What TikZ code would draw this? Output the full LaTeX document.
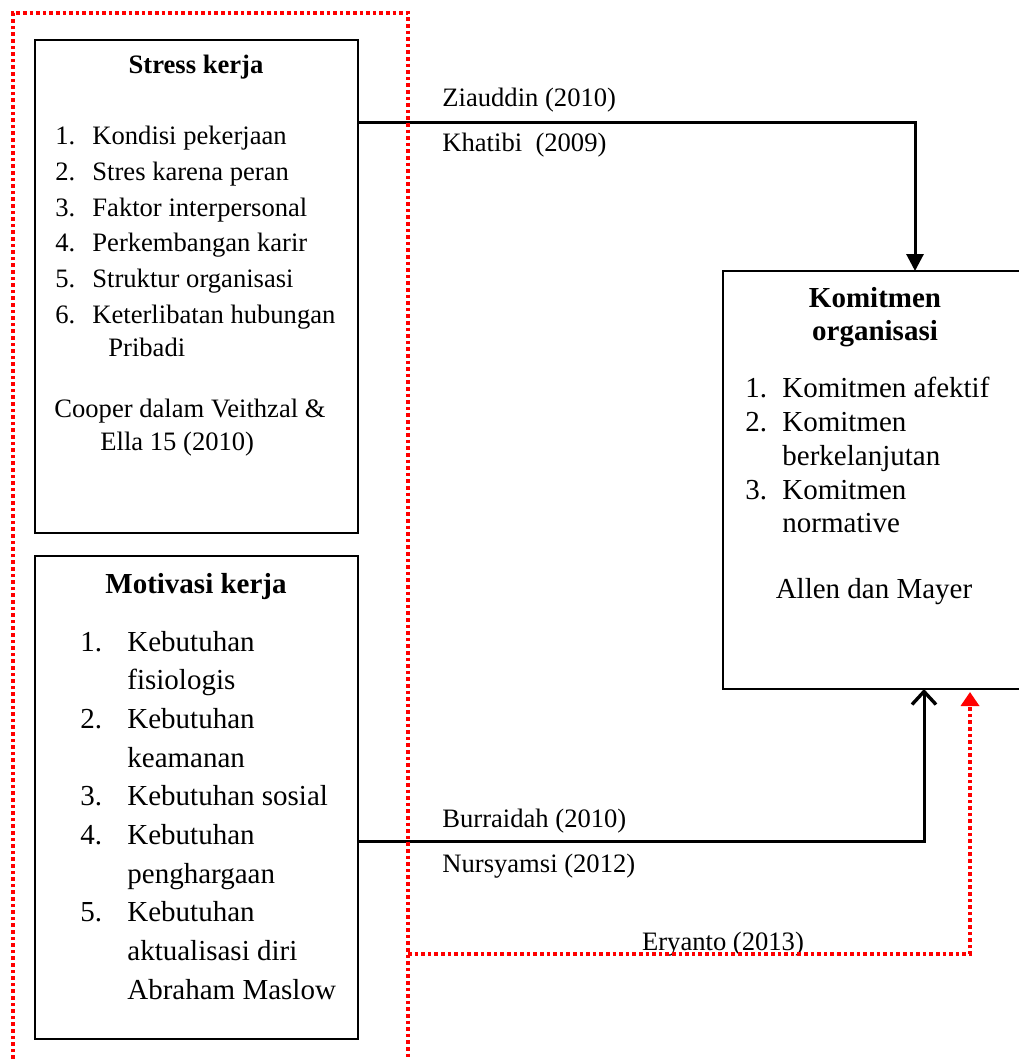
\documentclass[tikz,border=0pt]{standalone}
\usepackage{fontspec}
\setmainfont{Liberation Serif}
\usetikzlibrary{arrows.meta,positioning}
\newcommand{\ftsmall}{\fontsize{13.3}{16}\selectfont}
\newcommand{\ftlarge}{\fontsize{14.5}{17}\selectfont}
\tikzset{
  box/.style={ % one of the three concept boxes
    draw, rectangle, line width=0.75pt, inner sep=0pt, outer sep=0pt
  },
  txt/.style={ % one line of text, set from its baseline
    anchor=base west, inner sep=0pt, text=black
  },
  title/.style={ % bold heading of a box
    anchor=base, inner sep=0pt, text=black
  },
  link/.style={ % black connector
    line width=1.5pt
  },
  reddot/.style={ % red dotted frame and connector
    red, line width=2pt, dash pattern=on 1.8pt off 1.5pt
  }
}

\begin{document}
\begin{tikzpicture}[x=0.5pt, y=-0.5pt]
  \useasboundingbox (0,0) rectangle (1018,1059);

  \node[box, minimum width=161.5pt, minimum height=246.5pt] (stress) at (196.5,286.5) {};
  \node[box, minimum width=161.5pt, minimum height=241.5pt] (motiv) at (196.5,797.5) {};
  \node[box, minimum width=153.5pt, minimum height=209pt] (komit) at (876.5,480) {};

  % stress kerja
  \node[title, font=\ftsmall\bfseries] (s_title) at (196,74) {Stress kerja};
  \foreach \t [count=\i] in {Kondisi pekerjaan, Stres karena peran, Faktor interpersonal,
      Perkembangan karir, Struktur organisasi, Keterlibatan hubungan}{
    \node[txt, font=\ftsmall] (s_num\i) at (55,109.4+35.6*\i) {\i.};
    \node[txt, font=\ftsmall] (s_item\i) at (92,109.4+35.6*\i) {\t};
  }
  \node[txt, font=\ftsmall] (s_item7) at (108,356) {Pribadi};
  \node[txt, font=\ftsmall] (s_src1) at (54,417) {Cooper dalam Veithzal \&};
  \node[txt, font=\ftsmall] (s_src2) at (100,450) {Ella 15 (2010)};

  % motivasi kerja
  \node[title, font=\ftlarge\bfseries] (m_title) at (196,593) {Motivasi kerja};
  \foreach \k/\n in {0/1, 2/2, 4/3, 5/4, 7/5}
    \node[txt, font=\ftlarge] (m_num\n) at (80,651+38.7*\k) {\n.};
  \foreach \t [count=\k from 0] in {Kebutuhan, fisiologis, Kebutuhan, keamanan, Kebutuhan sosial,
      Kebutuhan, penghargaan, Kebutuhan, aktualisasi diri, Abraham Maslow}
    \node[txt, font=\ftlarge] (m_item\k) at (127,651+38.7*\k) {\t};

  % komitmen organisasi
  \node[title, font=\ftlarge\bfseries] (k_title1) at (875,307) {Komitmen};
  \node[title, font=\ftlarge\bfseries] (k_title2) at (875,340) {organisasi};
  \node[txt, font=\ftlarge] (k_num1) at (745,397) {1.};
  \node[txt, font=\ftlarge] (k_num2) at (745,431) {2.};
  \node[txt, font=\ftlarge] (k_num3) at (745,499) {3.};
  \node[txt, font=\ftlarge] (k_item1) at (782,397) {Komitmen afektif};
  \node[txt, font=\ftlarge] (k_item2) at (782,431) {Komitmen};
  \node[txt, font=\ftlarge] (k_item3) at (782,465) {berkelanjutan};
  \node[txt, font=\ftlarge] (k_item4) at (782,499) {Komitmen};
  \node[txt, font=\ftlarge] (k_item5) at (782,532) {normative};
  \node[title, font=\ftlarge] (k_src) at (874,598) {Allen dan Mayer};

  % sources on the connectors
  \node[txt, font=\ftsmall] (zia) at (442,107) {Ziauddin (2010)};
  \node[txt, font=\ftsmall] (kha) at (442,152) {Khatibi\ \ (2009)};
  \node[txt, font=\ftsmall] (bur) at (442,827) {Burraidah (2010)};
  \node[txt, font=\ftsmall] (nur) at (442,872) {Nursyamsi (2012)};
  \node[title, font=\ftsmall] (ery) at (723,950) {Eryanto (2013)};

  \draw[link, -{Triangle[width=8.5pt,length=8.5pt]}]
    ([yshift=-41.5pt]stress.north east) -| ([xshift=19.25pt]komit.north);
  \draw[link, -{Straight Barb[width=12pt,length=6.5pt,line width=1.7pt]}]
    ([yshift=-21.75pt]motiv.east) -| ([xshift=23.75pt]komit.south);

  % red frame round the two causes
  \coordinate (f_tl) at (13,13);
  \coordinate (f_tr) at (408,13);
  \coordinate (f_bl) at (13,1059);
  \coordinate (f_br) at (408,1059);
  \coordinate (f_out) at (408,954);
  \draw[reddot] (f_bl) -- (f_tl) -- (f_tr) -- (f_br);
  \draw[reddot, -{Triangle[width=9pt,length=7pt]}, shorten >=1.5pt]
    (f_out) -| ([xshift=46.75pt]komit.south);
\end{tikzpicture}
\end{document}
